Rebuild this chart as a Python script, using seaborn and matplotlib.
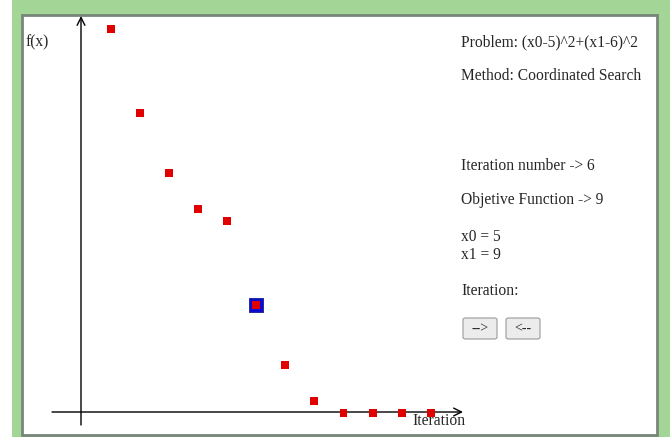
import numpy as np
import pandas as pd
import matplotlib
matplotlib.use('Agg')
import matplotlib.pyplot as plt
import seaborn as sns
from matplotlib.patches import Rectangle, FancyBboxPatch

# objective value at each iteration of the coordinated search
iters = [0, 1, 2, 3, 4, 5, 6, 7, 8, 9, 10, 11]
fvals = [32, 25, 20, 17, 16, 9, 4, 1, 0, 0, 0, 0]
current = 5  # highlighted iteration (Iteration number -> 6)

info_lines = [('Problem: (x0-5)^2+(x1-6)^2', 42),
              ('Method: Coordinated Search', 76),
              ('Iteration number -> 6', 166),
              ('Objetive Function -> 9', 200),
              ('x0 = 5', 237),
              ('x1 = 9', 255),
              ('Iteration:', 291)]

W, H = 670, 437
sns.set_style('white')
plt.rcParams['font.family'] = ['Liberation Serif', 'DejaVu Serif']

fig = plt.figure(figsize=(W / 100, H / 100), dpi=100)
fig.patch.set_facecolor('white')

def px(x, y):
    return x / W, 1 - y / H

# page frame: green border + grey inner line
fig.patches.append(Rectangle(px(12, H), (W - 12) / W, 1, transform=fig.transFigure,
                             facecolor='#a3d596', edgecolor='none', zorder=0))
fig.patches.append(Rectangle(px(21.5, 435), (657 - 21.5) / W, (435 - 15) / H,
                             transform=fig.transFigure, facecolor='white',
                             edgecolor='#76877a', lw=2, zorder=0.5))

# pixel mapping: x_px = X0 + DX*i ; y_px = 413 - 12*f
X0, DX = 110.7, 29.1

def xpx(p):
    return (p - X0) / DX

def ypx(p):
    return (413 - p) / 12

ax = fig.add_axes([0, 0, 1, 1])
ax.set_zorder(2)
ax.patch.set_alpha(0)

df = pd.DataFrame({'Iteration': iters, 'f': fvals})

# axes with open arrow heads
ax.annotate('', xy=(xpx(81), ypx(16)), xytext=(xpx(81), ypx(425)),
            arrowprops=dict(arrowstyle='->', color='black', lw=1,
                            shrinkA=0, shrinkB=0, mutation_scale=14))
ax.annotate('', xy=(xpx(463), ypx(412)), xytext=(xpx(52), ypx(412)),
            arrowprops=dict(arrowstyle='->', color='black', lw=1,
                            shrinkA=0, shrinkB=0, mutation_scale=14))

sel = df[df['Iteration'] == current]
sns.scatterplot(data=sel, x='Iteration', y='f', marker='s', s=105,
                color='#0a0ad0', edgecolor='#1a1a8a', linewidth=0.6, ax=ax, zorder=3)
sns.scatterplot(data=df, x='Iteration', y='f', marker='s', s=32,
                color='#e00000', edgecolor='none', ax=ax, zorder=4)
ax.set_xlim(xpx(0), xpx(W))
ax.set_ylim(ypx(H), ypx(0))
ax.set_axis_off()

fig.text(*px(25, 42), 'f(x)', fontsize=11.2, va='center', ha='left', zorder=3)
fig.text(*px(412, 421), 'Iteration', fontsize=11.2, va='center', ha='left', zorder=3)

for txt, y in info_lines:
    fig.text(*px(461, y), txt, fontsize=11.2, va='center', ha='left', zorder=3)

# navigation buttons
for label, x0 in [('-->', 463), ('<--', 506)]:
    fig.patches.append(FancyBboxPatch(px(x0, 339), 34 / W, 21 / H,
                                      boxstyle='round,pad=0,rounding_size=0.004',
                                      transform=fig.transFigure,
                                      facecolor='#ececec', edgecolor='#9a9a9a',
                                      lw=0.8, zorder=1))
    fig.text(*px(x0 + 17, 329), label, fontsize=10, va='center', ha='center', zorder=3)

fig.savefig('out.png', dpi=100)
